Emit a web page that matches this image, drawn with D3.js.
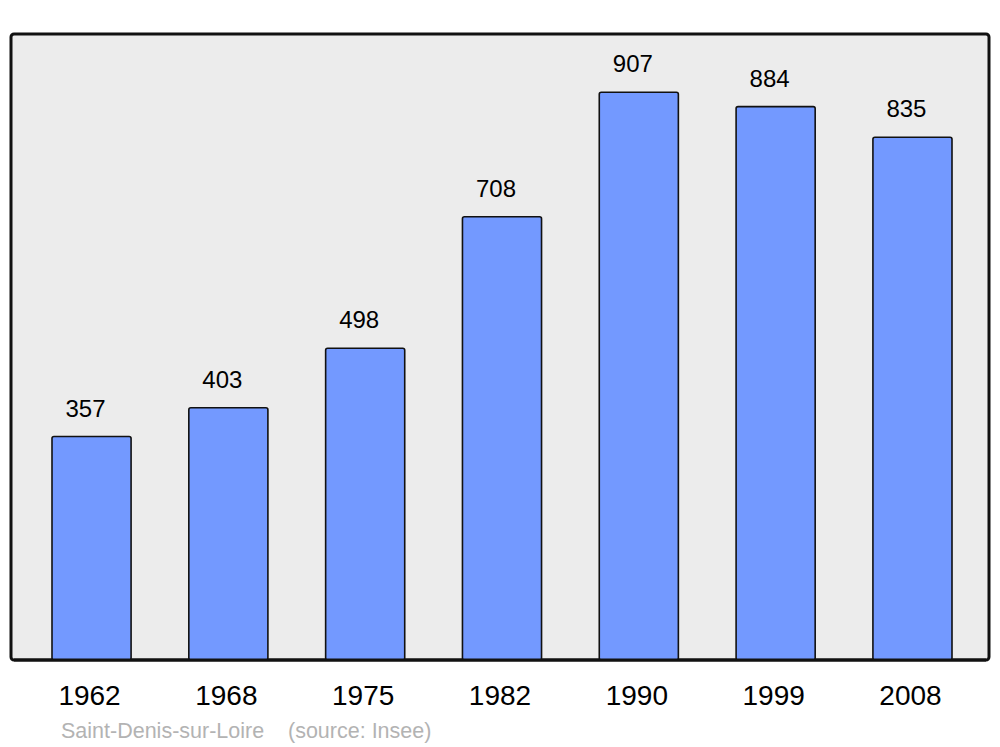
<!DOCTYPE html>
<html><head><meta charset="utf-8">
<script src="https://cdn.jsdelivr.net/npm/d3@7"></script>
<style>body{margin:0;background:#fff}svg{display:block}</style>
</head><body>
<svg id="c" width="1000" height="747"></svg>
<script>
const years = ["1962","1968","1975","1982","1990","1999","2008"];
const population = [357,403,498,708,907,884,835];
const commune = "Saint-Denis-sur-Loire";
const source = "(source: Insee)";

const svg = d3.select("#c");
const x = d3.scaleBand().domain(years).range([52,952]).paddingInner(0.422).paddingOuter(0);
const y = d3.scaleLinear().domain([0,1000]).range([660,34]);
const font = "'Liberation Sans', Arial, sans-serif";

svg.append("rect").attr("x",11).attr("y",34).attr("width",978).attr("height",626)
  .attr("rx",3).attr("fill","#ececec").attr("stroke","#111").attr("stroke-width",3);

svg.selectAll("rect.bar").data(population).enter().append("rect").attr("class","bar")
  .attr("x",(d,i)=>x(years[i])).attr("y",d=>y(d))
  .attr("width",x.bandwidth()).attr("height",d=>y(0)-y(d))
  .attr("rx",2).attr("fill","#7399ff").attr("stroke","#111").attr("stroke-width",1.6);

svg.append("line").attr("x1",14).attr("x2",986).attr("y1",660).attr("y2",660)
  .attr("stroke","#111").attr("stroke-width",3);

svg.selectAll("text.val").data(population).enter().append("text").attr("class","val")
  .attr("x",(d,i)=>x(years[i])+x.bandwidth()/2-6).attr("y",d=>y(d)-20)
  .attr("text-anchor","middle").attr("font-family",font).attr("font-size",24)
  .attr("fill","#000").text(d=>d);

const xAxis = d3.axisBottom(x).tickSize(0).tickPadding(0);
const g = svg.append("g").attr("transform","translate(-2,0)").call(xAxis);
g.select(".domain").remove();
g.selectAll("text").attr("y",705).attr("dy",null).attr("font-family",font)
  .attr("font-size",28).attr("fill","#000");

svg.append("text").attr("x",61).attr("y",738).attr("font-family",font).attr("font-size",21.5)
  .attr("fill","#b3b3b3").text(commune);
svg.append("text").attr("x",288).attr("y",738).attr("font-family",font).attr("font-size",21.5)
  .attr("fill","#b3b3b3").text(source);
</script>
</body></html>
